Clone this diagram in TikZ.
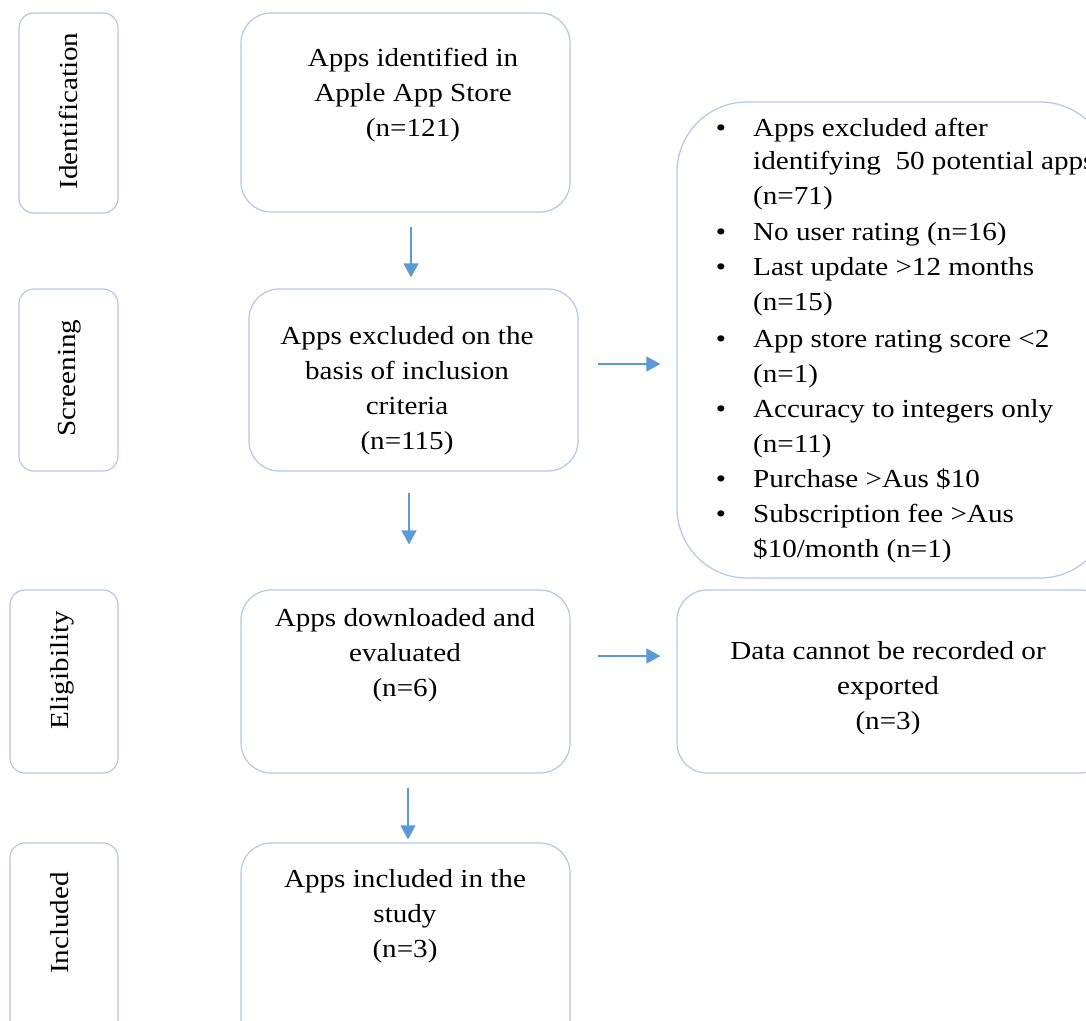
\documentclass[tikz,border=0pt]{standalone}
\usepackage{fontspec}
\setmainfont{Liberation Serif}[FakeStretch=1.12]
\usetikzlibrary{arrows.meta}
\definecolor{boxline}{HTML}{B4C7E7}
\definecolor{arrowblue}{HTML}{5B9BD5}
\begin{document}
\begin{tikzpicture}[x=1pt,y=-1pt,
  lab/.style={draw=boxline,line width=1.2pt,rounded corners=15pt,inner sep=0pt},
  mainbox/.style={draw=boxline,line width=1.2pt,rounded corners=30pt,inner sep=0pt},
  bigbox/.style={draw=boxline,line width=1.2pt,rounded corners=70pt,inner sep=0pt},
  txt/.style={align=center,inner sep=0pt,font=\fontsize{26}{35}\selectfont},
  ltxt/.style={inner sep=0pt,font=\fontsize{26}{35}\selectfont},
  arr/.style={draw=arrowblue,line width=1.3pt,-{Triangle[length=14pt,width=15pt]}}]
\clip (0,0) rectangle (1086,1020);
\fill[white] (0,0) rectangle (1086,1020);
% stage labels
\node[lab,minimum width=99pt,minimum height=200pt] (lab1) at (68.5,113) {};
\node[lab,minimum width=99pt,minimum height=182pt] (lab2) at (68.5,380) {};
\node[lab,minimum width=108pt,minimum height=183pt] (lab3) at (64,681.5) {};
\node[lab,minimum width=108pt,minimum height=217pt] (lab4) at (64,951.5) {};
\node[ltxt,rotate=90] (lab1t) at (68,111) {Identification};
\node[ltxt,rotate=90] (lab2t) at (70,378) {Screening};
\node[ltxt,rotate=90] (lab3t) at (62,670) {Eligibility};
\node[ltxt,rotate=90] (lab4t) at (60,923) {Included};
% main boxes
\node[mainbox,minimum width=329pt,minimum height=199pt] (box1) at (405.5,112.5) {};
\node[mainbox,minimum width=329pt,minimum height=182pt] (box2) at (413.5,380) {};
\node[mainbox,minimum width=329pt,minimum height=183pt] (box3) at (405.5,681.5) {};
\node[mainbox,minimum width=329pt,minimum height=217pt] (box4) at (405.5,951.5) {};
\node[bigbox,minimum width=433pt,minimum height=476pt] (ex1) at (893.5,340) {};
\node[mainbox,minimum width=433pt,minimum height=183pt] (ex2) at (893.5,681.5) {};
% texts
\node[txt] (t1) at (413,95) {Apps identified in\\Apple App Store\\(n=121)};
\node[txt] (t2) at (407,391) {Apps excluded on the\\basis of inclusion\\criteria\\(n=115)};
\node[txt] (t3) at (405,655) {Apps downloaded and\\evaluated\\(n=6)};
\node[txt] (t4) at (405,916) {Apps included in the\\study\\(n=3)};
\node[txt] (t6) at (888,688) {Data cannot be recorded or\\exported\\(n=3)};
% exclusion list
\foreach \y/\b/\t [count=\i] in {
  127/1/{Apps excluded after},
  160/0/{identifying\ \ 50 potential apps},
  195/0/{(n=71)},
  231/1/{No user rating\ (n=16)},
  266/1/{Last update >12 months},
  301/0/{(n=15)},
  338/1/{App store rating\ score <2},
  373/0/{(n=1)},
  408/1/{Accuracy to integers\ only},
  443/0/{(n=11)},
  478/1/{Purchase >Aus \$10},
  513/1/{Subscription fee >Aus},
  548/0/{\$10/month\ (n=1)}}{
  \node[ltxt,anchor=base west] (li\i) at (753,\y+9) {\t};
  \ifnum\b=1 \node[ltxt,anchor=base] (bu\i) at (721,\y+9) {•};\fi
}
% arrows
\draw[arr] ([xshift=5.5pt,yshift=-14pt]box1.south) -- ([xshift=-2.5pt,yshift=11pt]box2.north);
\draw[arr] ([xshift=19pt,yshift=16pt]box2.east) -- ([xshift=-16pt,yshift=-24pt]ex1.west);
\draw[arr] ([xshift=-4.5pt,yshift=-21pt]box2.south) -- ([xshift=3.5pt,yshift=45pt]box3.north);
\draw[arr] ([xshift=27pt,yshift=25.5pt]box3.east) -- ([xshift=-16pt,yshift=25.5pt]ex2.west);
\draw[arr] ([xshift=2.5pt,yshift=-14pt]box3.south) -- ([xshift=2.5pt,yshift=3pt]box4.north);
\end{tikzpicture}
\end{document}
